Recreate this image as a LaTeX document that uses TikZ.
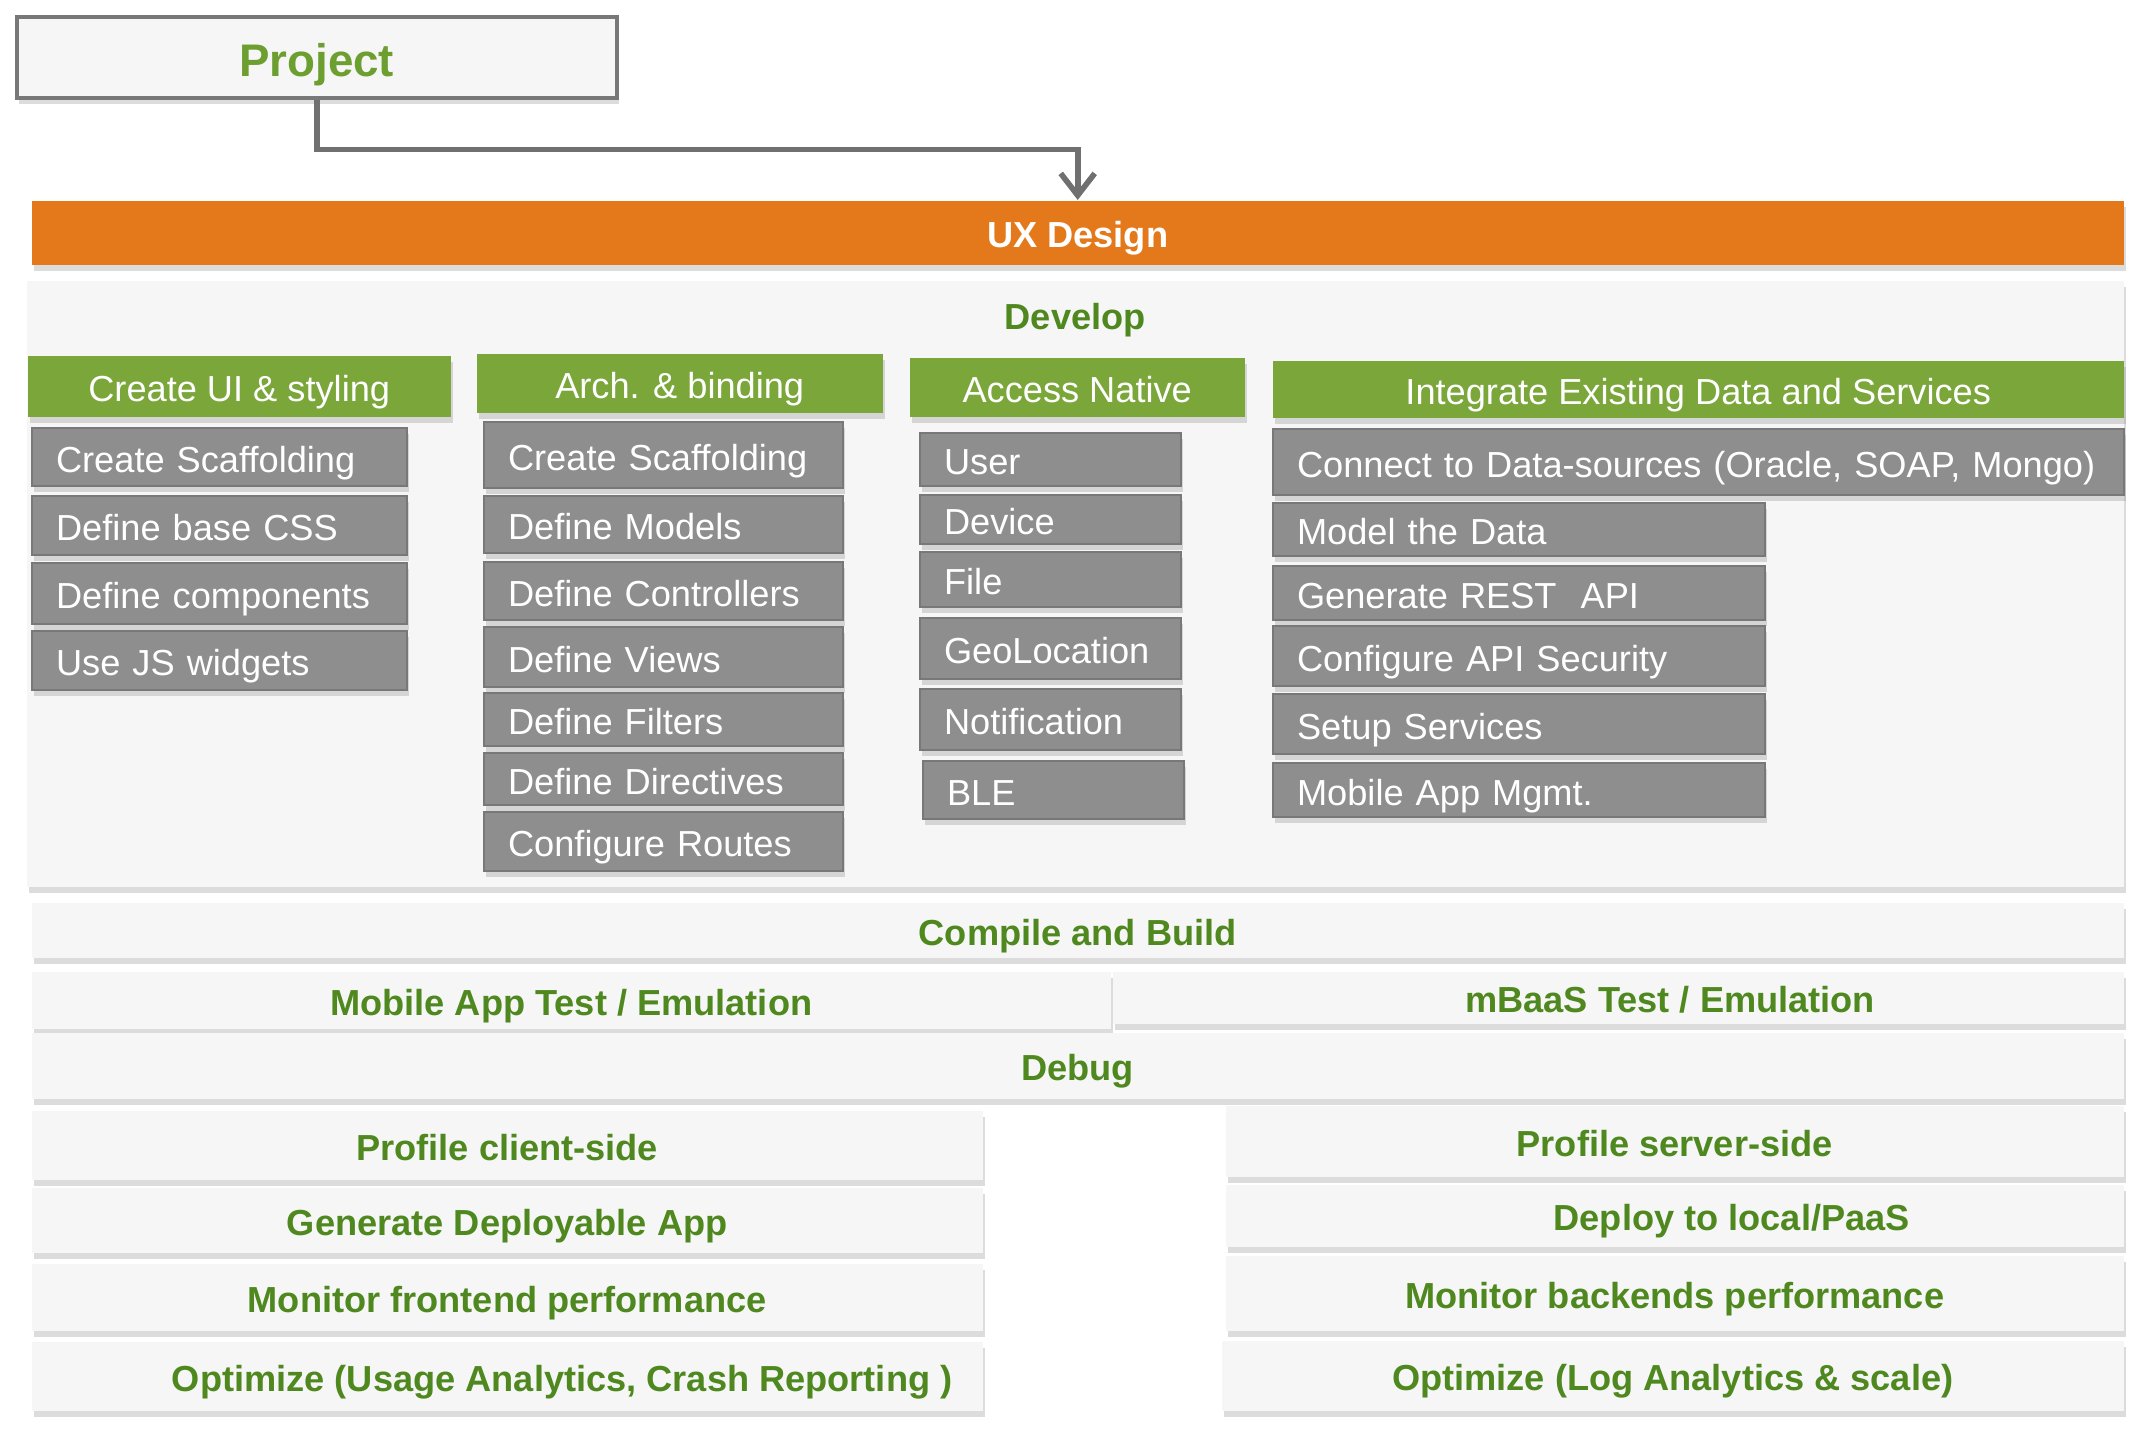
\documentclass[tikz,border=0pt]{standalone}
\usepackage{fontspec}
\setmainfont{Liberation Sans}
\usepackage{tikz}
\usetikzlibrary{positioning}
\usetikzlibrary{shadows}
\usetikzlibrary{arrows.meta}
\usepackage{xcolor}
\definecolor{uxorange}{RGB}{228,121,28}
\definecolor{headgreen}{RGB}{122,166,58}
\definecolor{titlegreen}{RGB}{78,136,30}
\definecolor{projgreen}{RGB}{108,158,48}
\definecolor{itemgray}{RGB}{142,142,142}
\definecolor{itemline}{RGB}{120,120,120}
\definecolor{panelgray}{RGB}{246,246,246}
\definecolor{linegray}{RGB}{112,112,112}
\newcommand{\boxfont}{\fontsize{10.3}{12}\selectfont}

\begin{document}
\begin{tikzpicture}[x=1cm, y=-1cm,
	softshadow/.style={drop shadow={shadow xshift=0.02cm, shadow yshift=-0.06cm, opacity=0.28}},
	title/.style={inner sep=0pt, text=titlegreen, font=\boxfont\bfseries, text height=0.32cm, text depth=0.02cm},
	panel/.style={title, fill=panelgray, anchor=north west, softshadow},
	head/.style={fill=headgreen, anchor=north west, softshadow, inner sep=0pt, text=white, font=\boxfont, text height=0.32cm, text depth=0.02cm},
	item/.style={draw=itemline, line width=0.6pt, fill=itemgray, anchor=north west, softshadow, inner xsep=0.24cm, inner ysep=0pt, text=white, align=left, font=\boxfont, text height=0.32cm, text depth=0.02cm},
	itemA/.style={item, text width=3.27cm},
	itemB/.style={item, text width=3.11cm},
	itemC/.style={item, text width=2.13cm},
	itemD/.style={item, text width=4.44cm},
	itemW/.style={item, text width=8.03cm}]
	\useasboundingbox (0,0) rectangle (21.44,14.30);

	\node[draw=itemline, line width=1pt, fill=panelgray, softshadow, anchor=north west, minimum width=6.0cm, minimum height=0.81cm, text=projgreen, font=\fontsize{13}{15}\selectfont\bfseries, text height=0.39cm, text depth=0cm] (project) at (0.15,0.15) {Project};
	\node[panel, fill=uxorange, text=white, minimum width=20.92cm, minimum height=0.64cm] (ux) at (0.31,2.00) {UX Design};
	\draw[linegray, line width=1.6pt, -{Straight Barb[length=0.22cm, width=0.34cm, line width=1.6pt]}] (project.south) -- ++(0,0.5) -| (ux.north);

	\node[panel, minimum width=20.97cm, minimum height=6.06cm] (develop) at (0.26,2.80) {};
	\node[title, below=0.17cm of develop.north] (developtitle) {Develop};

	\node[head, minimum width=4.23cm, minimum height=0.61cm] (uihead) at (0.27,3.55) {Create UI \& styling};
	\node[head, minimum width=4.06cm, minimum height=0.59cm] (archhead) at (4.76,3.53) {Arch. \& binding};
	\node[head, minimum width=3.35cm, minimum height=0.59cm] (nativehead) at (9.09,3.57) {Access Native};
	\node[head, minimum width=8.51cm, minimum height=0.57cm] (datahead) at (12.72,3.60) {Integrate Existing Data and Services};

	\node[itemA, minimum height=0.58cm] (uiscaffold) at (0.31,4.27) {Create Scaffolding};
	\node[itemA, minimum height=0.59cm] (uicss) at (0.31,4.95) {Define base CSS};
	\node[itemA, minimum height=0.61cm] (uicomp) at (0.31,5.62) {Define components};
	\node[itemA, minimum height=0.59cm] (uijs) at (0.31,6.30) {Use JS widgets};

	\node[itemB, minimum height=0.66cm] (archscaffold) at (4.83,4.21) {Create Scaffolding};
	\node[itemB, minimum height=0.57cm] (archmodels) at (4.83,4.95) {Define Models};
	\node[itemB, minimum height=0.58cm] (archctrl) at (4.83,5.61) {Define Controllers};
	\node[itemB, minimum height=0.60cm] (archviews) at (4.83,6.26) {Define Views};
	\node[itemB, minimum height=0.53cm] (archfilters) at (4.83,6.92) {Define Filters};
	\node[itemB, minimum height=0.52cm] (archdirs) at (4.83,7.52) {Define Directives};
	\node[itemB, minimum height=0.59cm] (archroutes) at (4.83,8.11) {Configure Routes};

	\node[itemC, minimum height=0.53cm] (user) at (9.19,4.32) {User};
	\node[itemC, minimum height=0.49cm] (device) at (9.19,4.94) {Device};
	\node[itemC, minimum height=0.55cm] (file) at (9.19,5.51) {File};
	\node[itemC, minimum height=0.61cm] (geo) at (9.19,6.17) {GeoLocation};
	\node[itemC, minimum height=0.61cm] (notify) at (9.19,6.88) {Notification};
	\node[itemC, minimum height=0.58cm] (ble) at (9.22,7.60) {BLE};

	\node[itemW, minimum height=0.66cm] (connect) at (12.72,4.28) {Connect to Data-sources (Oracle, SOAP, Mongo)};
	\node[itemD, minimum height=0.53cm] (modeldata) at (12.72,5.02) {Model the Data};
	\node[itemD, minimum height=0.54cm] (restapi) at (12.72,5.65) {Generate REST\ \ API};
	\node[itemD, minimum height=0.60cm] (apisec) at (12.72,6.25) {Configure API Security};
	\node[itemD, minimum height=0.60cm] (setup) at (12.72,6.93) {Setup Services};
	\node[itemD, minimum height=0.54cm] (appmgmt) at (12.72,7.62) {Mobile App Mgmt.};

	\node[panel, minimum width=20.92cm, minimum height=0.55cm] (compile) at (0.31,9.02) {Compile and Build};
	\node[panel, minimum width=10.79cm, minimum height=0.57cm] (apptest) at (0.31,9.71) {Mobile App Test / Emulation};
	\node[panel, minimum width=10.11cm, minimum height=0.52cm] (mbaastest) at (11.12,9.71) {\hspace*{1.04cm}mBaaS Test / Emulation};
	\node[panel, minimum width=20.92cm, minimum height=0.66cm] (debug) at (0.31,10.32) {Debug};

	\node[panel, minimum width=9.51cm, minimum height=0.69cm] (profclient) at (0.31,11.10) {Profile client-side};
	\node[panel, minimum width=9.51cm, minimum height=0.65cm] (gendeploy) at (0.31,11.87) {Generate Deployable App};
	\node[panel, minimum width=9.51cm, minimum height=0.67cm] (monfront) at (0.31,12.63) {Monitor frontend performance};
	\node[panel, minimum width=9.51cm, minimum height=0.69cm] (optclient) at (0.31,13.41) {\hspace*{1.1cm}Optimize (Usage Analytics, Crash Reporting )};

	\node[panel, minimum width=8.98cm, minimum height=0.71cm] (profserver) at (12.25,11.05) {Profile server-side};
	\node[panel, minimum width=8.98cm, minimum height=0.62cm] (deploy) at (12.25,11.84) {\hspace*{1.14cm}Deploy to local/PaaS};
	\node[panel, minimum width=8.98cm, minimum height=0.75cm] (monback) at (12.25,12.55) {Monitor backends performance};
	\node[panel, minimum width=9.02cm, minimum height=0.70cm] (optserver) at (12.21,13.40) {Optimize (Log Analytics \& scale)};
\end{tikzpicture}
\end{document}
